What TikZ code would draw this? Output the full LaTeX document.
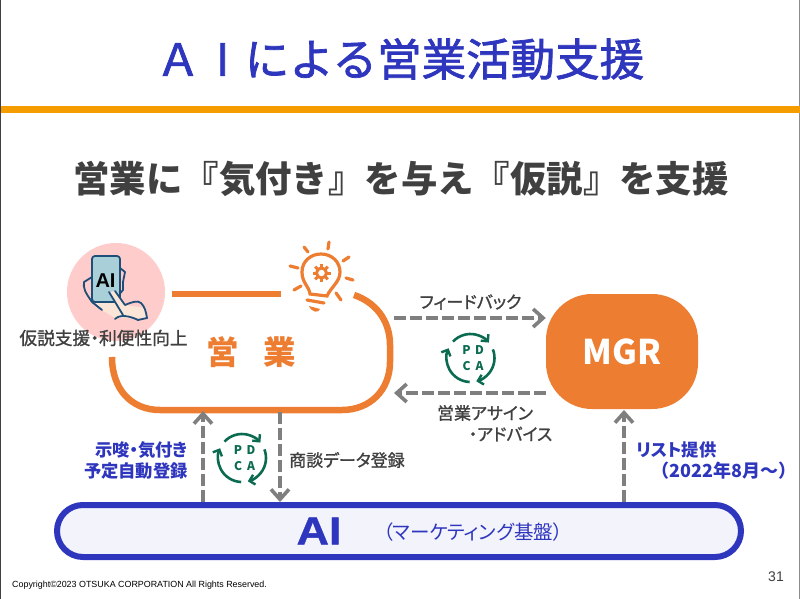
\documentclass[tikz,border=0pt]{standalone}
\usepackage{fontspec}
\setmainfont{Noto Sans CJK JP}
\newfontfamily\latinfont{Liberation Sans}
\newfontfamily\palfont[RawFeature=+palt]{Noto Sans CJK JP}
\newfontfamily\medfont[RawFeature=+palt,FakeBold=1.2]{Noto Sans CJK JP}
\newfontfamily\titlefont[FakeBold=1.6]{Noto Sans CJK JP}
\newfontfamily\heavyfont[FakeStretch=1.15,BoldFeatures={FakeBold=1}]{Liberation Sans}
\usetikzlibrary{arrows.meta}
\definecolor{navyblue}{HTML}{2F36BE}
\definecolor{bandorange}{HTML}{F59C00}
\definecolor{saleorange}{HTML}{ED7D31}
\definecolor{darktext}{HTML}{404040}
\definecolor{arrgray}{HTML}{7F7F7F}
\definecolor{pdcagreen}{HTML}{0B6B50}
\definecolor{pinkdisc}{HTML}{FFCCCC}
\definecolor{phonenavy}{HTML}{1F4E79}
\definecolor{screenblue}{HTML}{A9CFD8}
\definecolor{skin}{HTML}{FBE5D6}
\definecolor{basefill}{HTML}{F2F3FB}
\newcommand{\fs}[1]{\fontsize{#1}{#1}\selectfont}
\begin{document}
\begin{tikzpicture}[
        x = 1pt, y = -1pt,
        txt/.style = {inner sep = 0mm, text = darktext, font = \fs{17}\medfont},
        bluetxt/.style = {inner sep = 0mm, text = navyblue, font = \fs{17.3}\palfont\bfseries},
        arr/.style = {draw = arrgray, line width = 4pt, dash pattern = on 12pt off 4pt,
            -{Straight Barb[length = 10pt, width = 18pt, line width = 3.6pt]}},
        loopline/.style = {draw = saleorange, line width = 6.5pt},
        bulbline/.style = {draw = saleorange, line width = 3.2pt, line cap = round},
        hand/.style = {draw = phonenavy, line width = 1.8pt, line cap = round, line join = round},
        pdcaarc/.style = {draw = pdcagreen, line width = 2.6pt,
            -{Straight Barb[length = 5pt, width = 10pt, line width = 2.4pt]}},
        pdcaletter/.style = {text = pdcagreen, inner sep = 0mm, font = \fs{12}\bfseries},
        pdca/.pic = {
            \draw[pdcaarc] (-137:24) arc[start angle = -137, end angle = -40, radius = 24];
            \draw[pdcaarc] (-21:24) arc[start angle = -21, end angle = 76, radius = 24];
            \draw[pdcaarc] (92:24) arc[start angle = 92, end angle = 204, radius = 24];
            \node at (-4,-8) [pdcaletter] {P};
            \node at (9,-8) [pdcaletter] {D};
            \node at (-4,8) [pdcaletter] {C};
            \node at (9,8) [pdcaletter] {A};
        },
    ]
    \useasboundingbox (0,0) rectangle (800,599);
    \fill[white] (0,0) rectangle (800,599);
    \fill[darktext] (0,0) rectangle (1,599);
    \fill[darktext!60] (799.4,0) rectangle (800,599);

    % heading
    \node (TITLE) at (400,59) [inner sep = 0mm, text = navyblue, font = \fs{44.5}\titlefont] {Ａ\makebox[1em]{I}による営業活動支援};
    \fill[bandorange] (1,106) rectangle (800,113);
    \node (SUB) at (401,179) [inner sep = 0mm, text = darktext, font = \fs{36.4}\bfseries] {営業に『気付き』を与え『仮説』を支援};

    % tablet icon
    \node (DISC) at (116,292) [circle, fill = pinkdisc, inner sep = 0mm, minimum size = 98pt] {};
    \fill[skin] (92,302) -- (102,310) -- (115,318) -- (147,318) -- (145,308) -- (125,305) -- (115,291) -- (109,296) -- cycle;
    \draw[hand] (120,268) -- (125,272) -- (123,282) -- (123,290) -- (117,297);
    \draw[hand, rounded corners = 3pt, fill = screenblue] (92,256) rectangle (120,302);
    \node (PHONEAI) at (105.5,281) [inner sep = 0mm, text = black, font = \fs{20}\latinfont\bfseries] {AI};
    \fill[skin] (109,292) -- (115,291) -- (125,305) -- (123,315) -- cycle;
    \draw[hand] (92,277) -- (84,282) .. controls (83,288) and (85,292) .. (92,302) -- (102,310);
    \draw[hand] (109,292) -- (123,315);
    \draw[hand] (115,291) -- (125,305) .. controls (132,302) and (138,300) .. (141,303) .. controls (145,307) and (146,312) .. (147,318);
    \draw[hand] (115,319) .. controls (120,314) and (130,316) .. (138,320) -- (147,318);

    % sales loop
    \coordinate (LINEA) at (172,294);
    \coordinate (LINEB) at (281,294);
    \draw[loopline] (LINEA) -- (LINEB);
    \draw[loopline] (354,295) .. controls (375,302) and (390,320) .. (390,345) -- (390,362)
        .. controls (390,390) and (370,410) .. (342,410) -- (160,410)
        .. controls (132,410) and (112,390) .. (112,357);
    \node (SALES) at (251.5,352) [inner sep = 0mm, text = saleorange, font = \fs{32.5}\bfseries] {営\hspace{0.75em}業};
    \node (SUPPORT) at (103.5,338) [txt, font = \fs{17.7}\medfont] {仮説支援・利便性向上};

    % bulb
    \draw[bulbline] (310,294) .. controls (309,286) and (302,283) .. (302,272)
        .. controls (302,261) and (311,254) .. (321,254)
        .. controls (332,254) and (340,262) .. (340,272)
        .. controls (340,282) and (331,287) .. (327,296) -- cycle;
    \draw[bulbline] (307,300) -- (324,303);
    \fill[saleorange] (309,306) -- (320,309) .. controls (319,313) and (312,313) .. (309,306);
    \foreach \a in {0,45,...,315}
        \draw[saleorange, line width = 3pt] ([shift = {(321.5,273)}]\a:5) -- ([shift = {(321.5,273)}]\a:9);
    \node (GEAR) at (321.5,273) [circle, fill = white, draw = saleorange, line width = 3pt, inner sep = 0mm, minimum size = 10pt] {};
    \foreach \ax/\ay/\bx/\by in {304/247/308/252, 329/242/328/249, 349/257/343/261, 353/280/346/278,
            341/300/336/293, 294/290/301/286, 290/266/298/268}
        \draw[bulbline] (\ax,\ay) -- (\bx,\by);

    % manager
    \node (MGR) at (622,351.5) [rectangle, fill = saleorange, rounded corners = 46pt, minimum width = 152pt,
        minimum height = 115pt, inner sep = 0mm, text = white, font = \fs{34}\bfseries] {MGR};
    \coordinate (FEEDL) at (394,318);
    \coordinate (ASSIGNL) at (394,393);
    \path[arr] (FEEDL) -- (FEEDL -| MGR.west);
    \path[arr] (ASSIGNL -| MGR.west) -- (ASSIGNL);
    \node (FEED) at (470.5,302) [txt] {フィードバック};
    \node (ASSIGNA) at (485,413) [txt] {営業アサイン};
    \node (ASSIGNB) at (510.5,434) [txt] {・アドバイス};
    \pic at (470.5,358) {pdca};

    % base
    \node (BASE) at (399,531) [rectangle, draw = navyblue, line width = 6pt, fill = basefill, rounded corners = 26pt,
        minimum width = 684pt, minimum height = 52pt, inner sep = 0mm] {};
    \node (BASEAI) at (319,531) [inner sep = 0mm, text = navyblue, font = \fs{39}\heavyfont\bfseries] {AI};
    \node (BASETXT) at (473,532) [inner sep = 0mm, text = navyblue, font = \fs{19.5}\palfont] {（マーケティング基盤）};

    \coordinate (UPB) at (203,411);
    \coordinate (DNT) at (280,412);
    \coordinate (LISTT) at (624,410);
    \path[arr] (UPB |- BASE.north) -- (UPB);
    \path[arr] (DNT) -- (DNT |- BASE.north);
    \path[arr] (LISTT |- BASE.north) -- (LISTT);

    \node (HINTA) at (188,450) [bluetxt, anchor = east] {示唆・気付き};
    \node (HINTB) at (188,471) [bluetxt, anchor = east] {予定自動登録};
    \node (TALK) at (289,460) [txt, anchor = west] {商談データ登録};
    \node (LISTA) at (636,450) [bluetxt, anchor = west] {リスト提供};
    \node (LISTB) at (797,471) [bluetxt, anchor = east, font = \fs{18}\bfseries] {（2022年8月～）};
    \pic at (242,458) {pdca};

    % footer
    \node (COPY) at (12,585) [anchor = west, inner sep = 0mm, text = black, font = \fs{8.9}\latinfont] {Copyright©2023 OTSUKA CORPORATION All Rights Reserved.};
    \node (PAGE) at (776,577) [inner sep = 0mm, text = darktext, font = \fs{14}\latinfont] {31};
\end{tikzpicture}
\end{document}
